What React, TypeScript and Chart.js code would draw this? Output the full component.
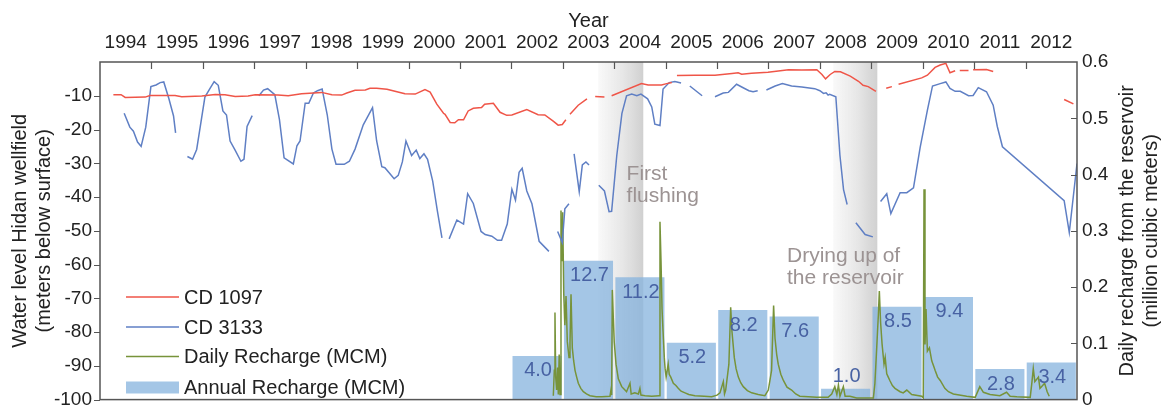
import React, { useEffect, useRef } from 'react';
import { Chart, registerables } from 'chart.js';

Chart.register(...registerables);

const FONT = "'Liberation Sans', Arial, Helvetica, sans-serif";

// ---------- axis / tick data ----------
const yearLabels = ['1994', '1995', '1996', '1997', '1998', '1999', '2000', '2001', '2002', '2003', '2004', '2005', '2006', '2007', '2008', '2009', '2010', '2011', '2012'];
const yearTickMarks = [1995, 1996, 1997, 1998, 1999, 2000, 2001, 2002, 2003, 2004, 2005, 2006, 2007, 2008, 2009, 2010, 2011, 2012];
const leftTickValues = [-100, -90, -80, -70, -60, -50, -40, -30, -20, -10];
const rightTickValues = [0, 0.1, 0.2, 0.3, 0.4, 0.5, 0.6];
const rightTitle = ['Daily recharge from the reservoir', '(million cuibic meters)'];

// ---------- series ----------
// CD 1097 water level (m below surface); null = gap in record
const cd1097: [number, number | null][] = [
  [1994.26, -9.7], [1994.41, -9.7], [1994.49, -10.5], [1994.88, -10.4], [1994.97, -9.9], [1995.46, -9.9], [1995.59, -10.3],
  [1995.98, -10.1], [1996.24, -9.6], [1996.43, -9.7], [1996.63, -10.2], [1996.88, -10.1], [1997.02, -9.7], [1997.46, -9.8],
  [1997.66, -10.0], [1997.92, -9.4], [1998.31, -9.0], [1998.51, -9.7], [1998.70, -9.8], [1998.80, -9.2], [1998.96, -8.4],
  [1999.16, -8.3], [1999.25, -7.8], [1999.38, -7.8], [1999.58, -8.1], [1999.93, -9.4], [2000.13, -9.5], [2000.32, -8.2],
  [2000.42, -8.9], [2000.55, -12.5], [2000.68, -15.2], [2000.71, -15.5], [2000.81, -17.9], [2000.90, -18.0], [2000.97, -17.1],
  [2001.07, -17.1], [2001.16, -14.5], [2001.26, -13.7], [2001.42, -13.5], [2001.48, -12.5], [2001.65, -12.2], [2001.78, -14.9],
  [2001.91, -15.8], [2002.01, -15.7], [2002.30, -14.1], [2002.52, -15.6], [2002.65, -15.7], [2002.82, -17.6], [2002.91, -18.7],
  [2002.99, -18.5], [2003.06, -17.1], [2003.10, null], [2003.14, -15.5], [2003.30, -12.8], [2003.47, -10.9], [2003.55, null],
  [2003.63, -10.2], [2003.81, -10.4], [2003.88, null], [2003.95, -10.0], [2004.53, -6.4], [2004.66, -6.8], [2004.92, -6.8],
  [2005.02, -6.4], [2005.12, -6.1], [2005.17, null], [2005.22, -4.0], [2005.57, -3.9], [2005.96, -3.9], [2006.29, -3.4],
  [2006.41, -3.2], [2006.48, -3.6], [2006.67, -3.3], [2006.99, -3.0], [2007.39, -2.3], [2007.65, -2.4], [2007.94, -2.3],
  [2008.04, -3.7], [2008.11, -5.0], [2008.20, -3.7], [2008.29, -2.8], [2008.40, -2.9], [2008.59, -4.2], [2008.75, -5.7],
  [2008.84, -6.9], [2008.94, -7.3], [2009.09, -8.7], [2009.18, null], [2009.29, -7.8], [2009.40, -7.3], [2009.46, null],
  [2009.53, -6.6], [2009.98, -4.7], [2010.09, -3.9], [2010.24, -1.6], [2010.34, -0.9], [2010.45, -0.4], [2010.53, -3.2],
  [2010.63, -2.6], [2010.67, null], [2010.72, -2.5], [2010.89, -2.5], [2010.94, null], [2010.98, -2.3], [2011.24, -2.2],
  [2011.37, -2.8], [2011.5, null], [2012.75, -11.1], [2012.93, -12.4],
];

// CD 3133 water level (m below surface)
const cd3133: [number, number | null][] = [
  [1994.47, -15.2], [1994.58, -19.3], [1994.65, -20.5], [1994.73, -23.7], [1994.80, -25.0], [1994.89, -19.3], [1994.99, -7.3],
  [1995.09, -6.8], [1995.17, -6.1], [1995.24, -5.9], [1995.34, -10.9], [1995.43, -16.0], [1995.47, -21.0], [1995.6, null],
  [1995.70, -28.0], [1995.80, -28.8], [1995.88, -25.9], [1996.04, -10.4], [1996.14, -7.8], [1996.22, -5.8], [1996.30, -6.9],
  [1996.39, -14.5], [1996.46, -15.7], [1996.53, -23.4], [1996.63, -26.2], [1996.74, -29.4], [1996.80, -28.8], [1996.86, -19.1],
  [1996.96, -15.9], [1997.03, null], [1997.09, -10.0], [1997.18, -8.3], [1997.26, -7.9], [1997.40, -9.7], [1997.49, -17.1],
  [1997.58, -28.4], [1997.76, -30.2], [1997.83, -24.8], [1997.89, -23.4], [1997.99, -12.2], [1998.06, -12.2], [1998.15, -9.2],
  [1998.23, -8.5], [1998.32, -8.0], [1998.42, -15.7], [1998.51, -25.8], [1998.59, -30.3], [1998.75, -30.3], [1998.85, -29.4],
  [1998.96, -25.8], [1999.12, -18.6], [1999.30, -13.5], [1999.38, -23.4], [1999.48, -31.0], [1999.54, -31.3], [1999.72, -34.6],
  [1999.80, -33.6], [1999.88, -29.6], [1999.95, -23.4], [2000.06, -27.7], [2000.15, -26.1], [2000.22, -28.6], [2000.30, -27.2],
  [2000.37, -28.8], [2000.47, -35.3], [2000.56, -44.0], [2000.65, -52.1], [2000.72, null], [2000.79, -52.4], [2000.94, -46.8],
  [2001.07, -48.0], [2001.15, -39.0], [2001.26, -41.9], [2001.41, -50.2], [2001.49, -51.1], [2001.62, -51.6], [2001.73, -52.8],
  [2001.81, -52.8], [2001.92, -48.0], [2002.01, -37.7], [2002.08, -40.9], [2002.15, -32.7], [2002.21, -31.5], [2002.30, -38.2],
  [2002.40, -42.0], [2002.54, -53.1], [2002.73, -56.1], [2002.81, null], [2002.90, -50.2], [2002.99, -53.5], [2003.04, -43.5],
  [2003.12, -42.0], [2003.17, null], [2003.22, -27.2], [2003.32, -38.4], [2003.38, -30.5], [2003.45, -29.6], [2003.51, -30.5],
  [2003.6, null], [2003.70, -36.5], [2003.81, -38.2], [2003.90, -44.3], [2003.95, -44.2], [2004.05, -27.7], [2004.15, -15.2],
  [2004.24, -10.0], [2004.34, -9.5], [2004.44, -10.0], [2004.52, -9.5], [2004.65, -10.9], [2004.73, -13.3], [2004.79, -18.4],
  [2004.89, -18.8], [2004.95, -8.0], [2005.07, -6.1], [2005.18, -5.8], [2005.30, -6.2], [2005.38, null], [2005.47, -7.1],
  [2005.71, -10.0], [2005.83, null], [2005.96, -10.3], [2006.12, -9.2], [2006.22, -9.0], [2006.38, -6.6], [2006.48, -7.4],
  [2006.62, -8.5], [2006.70, -8.8], [2006.79, -8.5], [2006.87, null], [2006.96, -8.3], [2007.13, -7.1], [2007.27, -6.4],
  [2007.45, -7.1], [2007.65, -7.4], [2007.90, -7.9], [2008.00, -8.5], [2008.07, -9.3], [2008.12, -9.1], [2008.16, -9.8],
  [2008.19, -9.6], [2008.31, -10.3], [2008.39, -27.7], [2008.46, -37.8], [2008.53, -42.2], [2008.61, null], [2008.70, -47.6],
  [2008.88, -51.1], [2009.03, -51.8], [2009.1, null], [2009.18, -41.3], [2009.30, -39.0], [2009.38, -44.9], [2009.56, -38.7],
  [2009.69, -38.7], [2009.82, -37.3], [2009.95, -25.3], [2010.09, -14.3], [2010.19, -7.1], [2010.34, -6.4], [2010.45, -5.9],
  [2010.53, -7.8], [2010.63, -8.7], [2010.73, -8.7], [2010.89, -10.0], [2010.98, -9.9], [2011.08, -7.6], [2011.24, -8.8],
  [2011.37, -12.8], [2011.45, -19.1], [2011.55, -25.1], [2012.75, -41.1], [2012.85, -50.5], [2013.0, -30.1],
];

// Daily recharge from the reservoir (MCM)
const dailyRecharge: [number, number][] = [
  [2002.816, 0.007], [2002.835, 0.052], [2002.848, 0.155], [2002.862, 0.040], [2002.88, 0.017], [2002.90, 0.057], [2002.913, 0.009],
  [2002.93, 0.080], [2002.946, 0.009], [2002.965, 0.336], [2002.985, 0.247], [2002.998, 0.333], [2003.018, 0.190], [2003.04, 0.132],
  [2003.063, 0.184], [2003.088, 0.103], [2003.121, 0.075], [2003.14, 0.100], [2003.16, 0.187], [2003.185, 0.092], [2003.21, 0.070],
  [2003.238, 0.052], [2003.27, 0.040], [2003.302, 0.029], [2003.35, 0.020], [2003.40, 0.014], [2003.46, 0.010], [2003.53, 0.007],
  [2003.65, 0.005], [2003.757, 0.005], [2003.918, 0.006], [2003.937, 0.017], [2003.95, 0.008], [2003.963, 0.195], [2003.983, 0.144],
  [2004.00, 0.103], [2004.035, 0.063], [2004.08, 0.037], [2004.146, 0.023], [2004.20, 0.018], [2004.24, 0.014], [2004.307, 0.029],
  [2004.33, 0.010], [2004.40, 0.012], [2004.47, 0.010], [2004.50, 0.020], [2004.52, 0.008], [2004.60, 0.007], [2004.73, 0.006],
  [2004.872, 0.007], [2004.89, 0.316], [2004.91, 0.247], [2004.93, 0.161], [2004.95, 0.121], [2004.974, 0.075], [2004.99, 0.055],
  [2005.01, 0.040], [2005.05, 0.063], [2005.07, 0.045], [2005.10, 0.040], [2005.15, 0.029], [2005.20, 0.025], [2005.245, 0.020],
  [2005.30, 0.015], [2005.377, 0.012], [2005.45, 0.009], [2005.57, 0.007], [2005.75, 0.006], [2005.896, 0.005], [2006.0, 0.008],
  [2006.057, 0.012], [2006.122, 0.032], [2006.145, 0.010], [2006.168, 0.017], [2006.23, 0.063], [2006.265, 0.164], [2006.29, 0.121],
  [2006.335, 0.075], [2006.37, 0.055], [2006.414, 0.040], [2006.46, 0.030], [2006.51, 0.023], [2006.59, 0.016], [2006.674, 0.012],
  [2006.80, 0.009], [2006.93, 0.007], [2006.997, 0.017], [2007.03, 0.035], [2007.06, 0.052], [2007.10, 0.167], [2007.127, 0.109],
  [2007.16, 0.080], [2007.19, 0.063], [2007.24, 0.045], [2007.29, 0.034], [2007.36, 0.022], [2007.45, 0.017], [2007.53, 0.010],
  [2007.61, 0.006], [2007.94, 0.004], [2008.16, 0.004], [2008.23, 0.010], [2008.29, 0.023], [2008.33, 0.009], [2008.36, 0.026],
  [2008.39, 0.006], [2008.456, 0.023], [2008.49, 0.006], [2008.585, 0.006], [2008.716, 0.003], [2009.04, 0.003], [2009.07, 0.029],
  [2009.105, 0.092], [2009.136, 0.149], [2009.156, 0.193], [2009.18, 0.138], [2009.21, 0.098], [2009.247, 0.063], [2009.27, 0.075],
  [2009.30, 0.046], [2009.33, 0.040], [2009.36, 0.034], [2009.41, 0.025], [2009.46, 0.020], [2009.56, 0.014], [2009.62, 0.012],
  [2009.69, 0.017], [2009.785, 0.009], [2009.98, 0.006], [2010.01, 0.003], [2010.025, 0.374], [2010.044, 0.098], [2010.064, 0.161],
  [2010.09, 0.086], [2010.13, 0.092], [2010.175, 0.069], [2010.21, 0.060], [2010.24, 0.052], [2010.29, 0.040], [2010.34, 0.034],
  [2010.43, 0.020], [2010.50, 0.014], [2010.595, 0.010], [2010.855, 0.006], [2011.02, 0.004], [2011.11, 0.023], [2011.18, 0.013],
  [2011.31, 0.009], [2011.5, 0.007], [2011.63, 0.013], [2011.7, 0.006], [2011.83, 0.005], [2012.09, 0.004], [2012.12, 0.028],
  [2012.15, 0.055], [2012.18, 0.032], [2012.25, 0.040], [2012.28, 0.020], [2012.31, 0.023], [2012.37, 0.029], [2012.42, 0.014],
  [2012.46, 0.006],
];

// Annual recharge (MCM)
const annualYears = [2002, 2003, 2004, 2005, 2006, 2007, 2008, 2009, 2010, 2011, 2012];
const annualRecharge = [4.0, 12.7, 11.2, 5.2, 8.2, 7.6, 1.0, 8.5, 9.4, 2.8, 3.4];

// shaded periods (decimal years)
const bandStart = [2003.69, 2008.26];
const bandEnd = [2004.565, 2009.117];

// annotations: [text lines, anchor year, anchor water level of first baseline]
const notes: { lines: string[]; year: number; level: number }[] = [
  { lines: ['First', 'flushing'], year: 2004.24, level: -34.9 },
  { lines: ['Drying up of', 'the reservoir'], year: 2007.36, level: -59.2 },
];

const COLORS = {
  red: '#ef5548',
  blue: '#5f7fc4',
  green: '#77933a',
  bar: 'rgba(135,180,222,0.76)',
  barText: '#4862a3',
  note: '#9c9393',
  axis: '#555555',
  text: '#222222',
};

const decor = {
  id: 'decor',
  beforeDatasetsDraw(chart: any) {
    const { ctx, chartArea, scales } = chart;
    const x = scales.x;
    ctx.save();
    bandStart.forEach((s, i) => {
      const x0 = x.getPixelForValue(s);
      const x1 = x.getPixelForValue(bandEnd[i]);
      const g = ctx.createLinearGradient(x0, 0, x1, 0);
      g.addColorStop(0, 'rgba(110,110,110,0.04)');
      g.addColorStop(0.55, 'rgba(110,110,110,0.17)');
      g.addColorStop(1, 'rgba(110,110,110,0.32)');
      ctx.fillStyle = g;
      ctx.fillRect(x0, chartArea.top, x1 - x0, chartArea.bottom - chartArea.top);
    });
    ctx.restore();
  },
  afterDatasetsDraw(chart: any) {
    const { ctx, chartArea, scales } = chart;
    const { left, right, top, bottom } = chartArea;
    ctx.save();

    // bar value labels
    const barIdx = chart.data.datasets.findIndex((d: any) => d.type === 'bar');
    const meta = chart.getDatasetMeta(barIdx);
    ctx.font = `20px ${FONT}`;
    ctx.fillStyle = COLORS.barText;
    ctx.textAlign = 'center';
    ctx.textBaseline = 'middle';
    meta.data.forEach((bar: any, i: number) => {
      const v = annualRecharge[i];
      const y = v < 2 ? bar.y - 12 : bar.y + 15;
      ctx.fillText(v.toFixed(1), bar.x + 1, y);
    });

    // annotations
    ctx.font = `21px ${FONT}`;
    ctx.fillStyle = COLORS.note;
    ctx.textAlign = 'left';
    ctx.textBaseline = 'alphabetic';
    notes.forEach((n) => {
      const nx = scales.x.getPixelForValue(n.year);
      const ny = scales.yL.getPixelForValue(n.level);
      n.lines.forEach((line, i) => ctx.fillText(line, nx, ny + i * 22));
    });

    // legend
    const rows = [297, 327, 356.5, 387.5];
    ctx.font = `20px ${FONT}`;
    ctx.textBaseline = 'middle';
    chart.data.datasets.forEach((d: any, i: number) => {
      const y = rows[i];
      if (d.type === 'bar') {
        ctx.fillStyle = d.backgroundColor;
        ctx.fillRect(126, y - 6, 53, 12);
      } else {
        ctx.strokeStyle = d.borderColor;
        ctx.lineWidth = d.borderWidth;
        ctx.beginPath();
        ctx.moveTo(126, y);
        ctx.lineTo(179, y);
        ctx.stroke();
      }
      ctx.fillStyle = COLORS.text;
      ctx.fillText(d.label, 184, y + 1);
    });

    // right axis title (reads bottom to top, like the left one)
    const midY = (top + bottom) / 2;
    ctx.font = `20px ${FONT}`;
    ctx.fillStyle = COLORS.text;
    ctx.textAlign = 'center';
    ctx.textBaseline = 'middle';
    rightTitle.forEach((line, i) => {
      ctx.save();
      ctx.translate(1127 + i * 24, midY);
      ctx.rotate(-Math.PI / 2);
      ctx.fillText(line, 0, 0);
      ctx.restore();
    });

    // frame and tick marks
    ctx.strokeStyle = COLORS.axis;
    ctx.lineWidth = 1.5;
    ctx.strokeRect(left, top, right - left, bottom - top);
    ctx.lineWidth = 1.2;
    ctx.beginPath();
    yearTickMarks.forEach((yr) => {
      const px = Math.round(scales.x.getPixelForValue(yr)) + 0.5;
      ctx.moveTo(px, top);
      ctx.lineTo(px, top + 7);
    });
    leftTickValues.forEach((v) => {
      const py = Math.round(scales.yL.getPixelForValue(v)) + 0.5;
      ctx.moveTo(left - 6, py);
      ctx.lineTo(left, py);
    });
    rightTickValues.forEach((v) => {
      if (v === 0 || v === 0.6) return;
      const py = Math.round(scales.yR.getPixelForValue(v)) + 0.5;
      ctx.moveTo(right - 6, py);
      ctx.lineTo(right, py);
    });
    ctx.stroke();
    ctx.restore();
  },
};

export default function App() {
  const ref = useRef<HTMLCanvasElement>(null);

  useEffect(() => {
    const canvas = ref.current;
    if (!canvas) return;
    const tickFont = { family: FONT, size: 19 };
    const titleFont = { family: FONT, size: 20 };

    const chart = new Chart(canvas, {
      type: 'line',
      data: {
        datasets: [
          {
            label: 'CD 1097',
            data: cd1097.map(([x, y]) => ({ x, y })),
            borderColor: COLORS.red,
            borderWidth: 1.5,
            pointRadius: 0,
            yAxisID: 'yL',
            spanGaps: false,
            order: 1,
          },
          {
            label: 'CD 3133',
            data: cd3133.map(([x, y]) => ({ x, y })),
            borderColor: COLORS.blue,
            borderWidth: 1.5,
            pointRadius: 0,
            yAxisID: 'yL',
            spanGaps: false,
            order: 2,
          },
          {
            label: 'Daily Recharge (MCM)',
            data: dailyRecharge.map(([x, y]) => ({ x, y })),
            borderColor: COLORS.green,
            borderWidth: 1.5,
            pointRadius: 0,
            yAxisID: 'yR',
            order: 3,
          },
          {
            type: 'bar',
            label: 'Annual Recharge (MCM)',
            data: annualYears.map((yr, i) => ({ x: yr + 0.5, y: annualRecharge[i] })),
            backgroundColor: COLORS.bar,
            borderWidth: 0,
            barPercentage: 0.955,
            categoryPercentage: 1,
            yAxisID: 'yBar',
            order: 10,
          } as any,
        ],
      },
      options: {
        responsive: false,
        animation: false,
        events: [],
        layout: { padding: { left: 0, right: 0, top: 0, bottom: 9 } },
        plugins: { legend: { display: false }, tooltip: { enabled: false } },
        scales: {
          x: {
            type: 'linear',
            position: 'top',
            min: 1994,
            max: 2013,
            offset: false,
            afterBuildTicks: (s: any) => {
              s.ticks = yearLabels.map((_, i) => ({ value: 1994.5 + i }));
            },
            ticks: {
              autoSkip: false,
              maxRotation: 0,
              font: tickFont,
              color: COLORS.text,
              padding: 8,
              callback: (_v: any, i: number) => yearLabels[i],
            },
            grid: { display: false, drawTicks: false, offset: false },
            border: { display: false },
            title: { display: true, text: 'Year', font: titleFont, color: COLORS.text, padding: { top: 9, bottom: 0 } },
            afterFit: (s: any) => {
              s.height = 62;
            },
          },
          yL: {
            type: 'linear',
            position: 'left',
            min: -100,
            max: 0,
            afterBuildTicks: (s: any) => {
              s.ticks = leftTickValues.map((v) => ({ value: v }));
            },
            ticks: { font: tickFont, color: COLORS.text, padding: 8, callback: (v: any) => String(v) },
            grid: { display: false, drawTicks: false },
            border: { display: false },
            title: {
              display: true,
              text: ['Water level Hidan wellfield', '(meters below surface)'],
              font: titleFont,
              color: COLORS.text,
              padding: { top: 8, bottom: 0 },
            },
            afterFit: (s: any) => {
              s.width = 100;
            },
          },
          yR: {
            type: 'linear',
            position: 'right',
            min: 0,
            max: 0.6,
            afterBuildTicks: (s: any) => {
              s.ticks = rightTickValues.map((v) => ({ value: v }));
            },
            ticks: {
              font: tickFont,
              color: COLORS.text,
              padding: 5,
              callback: (v: any) => (v === 0 ? '0' : Number(v).toFixed(1)),
            },
            grid: { display: false, drawTicks: false },
            border: { display: false },
            title: { display: false },
            afterFit: (s: any) => {
              s.width = 87;
            },
          },
          yBar: {
            type: 'linear',
            display: false,
            min: 0,
            max: 30.9,
          },
        },
      } as any,
      plugins: [decor],
    });

    return () => chart.destroy();
  }, []);

  return (
    <div style={{ position: 'fixed', left: 0, top: 0, width: 1164, height: 419, background: '#ffffff' }}>
      <canvas ref={ref} width={1164} height={419} style={{ display: 'block', width: 1164, height: 419 }} />
    </div>
  );
}
